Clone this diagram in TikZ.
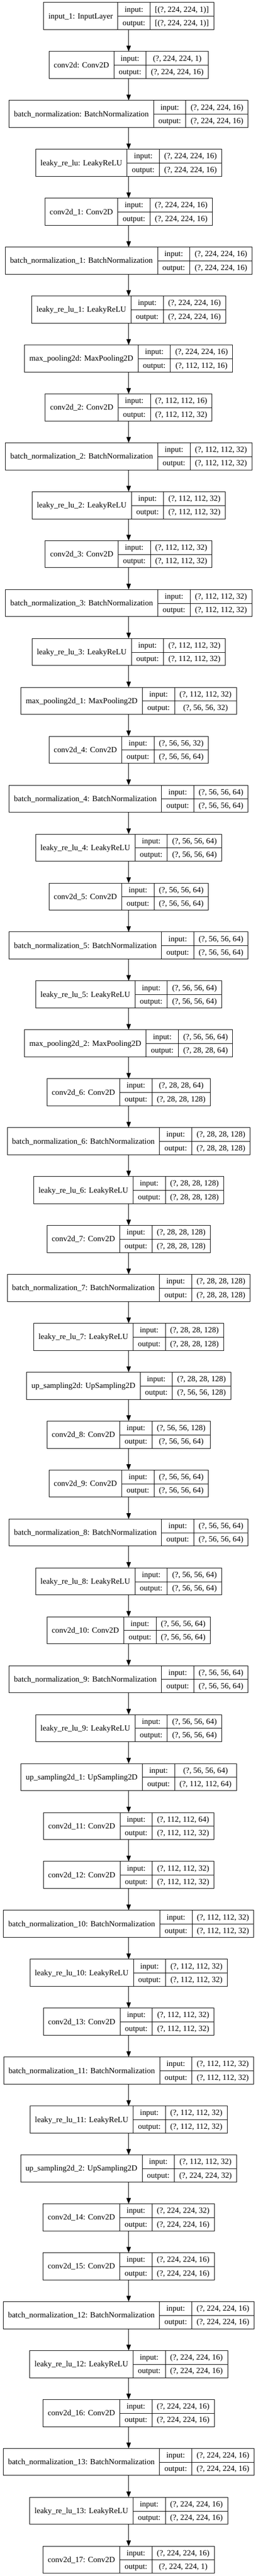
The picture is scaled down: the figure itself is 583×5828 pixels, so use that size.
\documentclass[tikz,border=0pt]{standalone}
\usepackage{fontspec}
\setmainfont{Liberation Serif}
\usepackage{tikz}
\usetikzlibrary{positioning}
\usetikzlibrary{arrows.meta}

\setlength{\tabcolsep}{11pt}
\setlength{\arrayrulewidth}{1pt}
\newcommand{\rowstrut}{\rule[-9.4pt]{0pt}{30.65pt}}
\newcommand{\layertab}[3]{%
    \begin{tabular}{c|c|c}
        \raisebox{-15.3pt}[0pt][0pt]{#1} & \rowstrut input: & #2 \\ \cline{2-3}
        & \rowstrut output: & #3
    \end{tabular}}

\begin{document}
\begin{tikzpicture}[
        layer/.style = {
            draw,
            line width = 1pt,
            inner sep = 0pt,
            outer sep = 0pt,
            font = \fontsize{18}{21.6}\selectfont
        },
        edge/.style = {
            line width = 1pt,
            -{Triangle[length=13pt, width=10pt]}
        },
        node distance = {49.37pt}
    ]
    \useasboundingbox (0,0) rectangle (583pt,-5828pt);

    \node[layer, anchor=north] (1) at (291.2pt,-5.7pt) {\layertab{input\_1: InputLayer}{[(?, 224, 224, 1)]}{[(?, 224, 224, 1)]}};
    \node[layer, below=of 1] (2) {\layertab{conv2d: Conv2D}{(?, 224, 224, 1)}{(?, 224, 224, 16)}};
    \node[layer, below=of 2] (3) {\layertab{batch\_normalization: BatchNormalization}{(?, 224, 224, 16)}{(?, 224, 224, 16)}};
    \node[layer, below=of 3] (4) {\layertab{leaky\_re\_lu: LeakyReLU}{(?, 224, 224, 16)}{(?, 224, 224, 16)}};
    \node[layer, below=of 4] (5) {\layertab{conv2d\_1: Conv2D}{(?, 224, 224, 16)}{(?, 224, 224, 16)}};
    \node[layer, below=of 5] (6) {\layertab{batch\_normalization\_1: BatchNormalization}{(?, 224, 224, 16)}{(?, 224, 224, 16)}};
    \node[layer, below=of 6] (7) {\layertab{leaky\_re\_lu\_1: LeakyReLU}{(?, 224, 224, 16)}{(?, 224, 224, 16)}};
    \node[layer, below=of 7] (8) {\layertab{max\_pooling2d: MaxPooling2D}{(?, 224, 224, 16)}{(?, 112, 112, 16)}};
    \node[layer, below=of 8] (9) {\layertab{conv2d\_2: Conv2D}{(?, 112, 112, 16)}{(?, 112, 112, 32)}};
    \node[layer, below=of 9] (10) {\layertab{batch\_normalization\_2: BatchNormalization}{(?, 112, 112, 32)}{(?, 112, 112, 32)}};
    \node[layer, below=of 10] (11) {\layertab{leaky\_re\_lu\_2: LeakyReLU}{(?, 112, 112, 32)}{(?, 112, 112, 32)}};
    \node[layer, below=of 11] (12) {\layertab{conv2d\_3: Conv2D}{(?, 112, 112, 32)}{(?, 112, 112, 32)}};
    \node[layer, below=of 12] (13) {\layertab{batch\_normalization\_3: BatchNormalization}{(?, 112, 112, 32)}{(?, 112, 112, 32)}};
    \node[layer, below=of 13] (14) {\layertab{leaky\_re\_lu\_3: LeakyReLU}{(?, 112, 112, 32)}{(?, 112, 112, 32)}};
    \node[layer, below=of 14] (15) {\layertab{max\_pooling2d\_1: MaxPooling2D}{(?, 112, 112, 32)}{(?, 56, 56, 32)}};
    \node[layer, below=of 15] (16) {\layertab{conv2d\_4: Conv2D}{(?, 56, 56, 32)}{(?, 56, 56, 64)}};
    \node[layer, below=of 16] (17) {\layertab{batch\_normalization\_4: BatchNormalization}{(?, 56, 56, 64)}{(?, 56, 56, 64)}};
    \node[layer, below=of 17] (18) {\layertab{leaky\_re\_lu\_4: LeakyReLU}{(?, 56, 56, 64)}{(?, 56, 56, 64)}};
    \node[layer, below=of 18] (19) {\layertab{conv2d\_5: Conv2D}{(?, 56, 56, 64)}{(?, 56, 56, 64)}};
    \node[layer, below=of 19] (20) {\layertab{batch\_normalization\_5: BatchNormalization}{(?, 56, 56, 64)}{(?, 56, 56, 64)}};
    \node[layer, below=of 20] (21) {\layertab{leaky\_re\_lu\_5: LeakyReLU}{(?, 56, 56, 64)}{(?, 56, 56, 64)}};
    \node[layer, below=of 21] (22) {\layertab{max\_pooling2d\_2: MaxPooling2D}{(?, 56, 56, 64)}{(?, 28, 28, 64)}};
    \node[layer, below=of 22] (23) {\layertab{conv2d\_6: Conv2D}{(?, 28, 28, 64)}{(?, 28, 28, 128)}};
    \node[layer, below=of 23] (24) {\layertab{batch\_normalization\_6: BatchNormalization}{(?, 28, 28, 128)}{(?, 28, 28, 128)}};
    \node[layer, below=of 24] (25) {\layertab{leaky\_re\_lu\_6: LeakyReLU}{(?, 28, 28, 128)}{(?, 28, 28, 128)}};
    \node[layer, below=of 25] (26) {\layertab{conv2d\_7: Conv2D}{(?, 28, 28, 128)}{(?, 28, 28, 128)}};
    \node[layer, below=of 26] (27) {\layertab{batch\_normalization\_7: BatchNormalization}{(?, 28, 28, 128)}{(?, 28, 28, 128)}};
    \node[layer, below=of 27] (28) {\layertab{leaky\_re\_lu\_7: LeakyReLU}{(?, 28, 28, 128)}{(?, 28, 28, 128)}};
    \node[layer, below=of 28] (29) {\layertab{up\_sampling2d: UpSampling2D}{(?, 28, 28, 128)}{(?, 56, 56, 128)}};
    \node[layer, below=of 29] (30) {\layertab{conv2d\_8: Conv2D}{(?, 56, 56, 128)}{(?, 56, 56, 64)}};
    \node[layer, below=of 30] (31) {\layertab{conv2d\_9: Conv2D}{(?, 56, 56, 64)}{(?, 56, 56, 64)}};
    \node[layer, below=of 31] (32) {\layertab{batch\_normalization\_8: BatchNormalization}{(?, 56, 56, 64)}{(?, 56, 56, 64)}};
    \node[layer, below=of 32] (33) {\layertab{leaky\_re\_lu\_8: LeakyReLU}{(?, 56, 56, 64)}{(?, 56, 56, 64)}};
    \node[layer, below=of 33] (34) {\layertab{conv2d\_10: Conv2D}{(?, 56, 56, 64)}{(?, 56, 56, 64)}};
    \node[layer, below=of 34] (35) {\layertab{batch\_normalization\_9: BatchNormalization}{(?, 56, 56, 64)}{(?, 56, 56, 64)}};
    \node[layer, below=of 35] (36) {\layertab{leaky\_re\_lu\_9: LeakyReLU}{(?, 56, 56, 64)}{(?, 56, 56, 64)}};
    \node[layer, below=of 36] (37) {\layertab{up\_sampling2d\_1: UpSampling2D}{(?, 56, 56, 64)}{(?, 112, 112, 64)}};
    \node[layer, below=of 37] (38) {\layertab{conv2d\_11: Conv2D}{(?, 112, 112, 64)}{(?, 112, 112, 32)}};
    \node[layer, below=of 38] (39) {\layertab{conv2d\_12: Conv2D}{(?, 112, 112, 32)}{(?, 112, 112, 32)}};
    \node[layer, below=of 39] (40) {\layertab{batch\_normalization\_10: BatchNormalization}{(?, 112, 112, 32)}{(?, 112, 112, 32)}};
    \node[layer, below=of 40] (41) {\layertab{leaky\_re\_lu\_10: LeakyReLU}{(?, 112, 112, 32)}{(?, 112, 112, 32)}};
    \node[layer, below=of 41] (42) {\layertab{conv2d\_13: Conv2D}{(?, 112, 112, 32)}{(?, 112, 112, 32)}};
    \node[layer, below=of 42] (43) {\layertab{batch\_normalization\_11: BatchNormalization}{(?, 112, 112, 32)}{(?, 112, 112, 32)}};
    \node[layer, below=of 43] (44) {\layertab{leaky\_re\_lu\_11: LeakyReLU}{(?, 112, 112, 32)}{(?, 112, 112, 32)}};
    \node[layer, below=of 44] (45) {\layertab{up\_sampling2d\_2: UpSampling2D}{(?, 112, 112, 32)}{(?, 224, 224, 32)}};
    \node[layer, below=of 45] (46) {\layertab{conv2d\_14: Conv2D}{(?, 224, 224, 32)}{(?, 224, 224, 16)}};
    \node[layer, below=of 46] (47) {\layertab{conv2d\_15: Conv2D}{(?, 224, 224, 16)}{(?, 224, 224, 16)}};
    \node[layer, below=of 47] (48) {\layertab{batch\_normalization\_12: BatchNormalization}{(?, 224, 224, 16)}{(?, 224, 224, 16)}};
    \node[layer, below=of 48] (49) {\layertab{leaky\_re\_lu\_12: LeakyReLU}{(?, 224, 224, 16)}{(?, 224, 224, 16)}};
    \node[layer, below=of 49] (50) {\layertab{conv2d\_16: Conv2D}{(?, 224, 224, 16)}{(?, 224, 224, 16)}};
    \node[layer, below=of 50] (51) {\layertab{batch\_normalization\_13: BatchNormalization}{(?, 224, 224, 16)}{(?, 224, 224, 16)}};
    \node[layer, below=of 51] (52) {\layertab{leaky\_re\_lu\_13: LeakyReLU}{(?, 224, 224, 16)}{(?, 224, 224, 16)}};
    \node[layer, below=of 52] (53) {\layertab{conv2d\_17: Conv2D}{(?, 224, 224, 16)}{(?, 224, 224, 1)}};

    \draw[edge] (1) -- (2);
    \draw[edge] (2) -- (3);
    \draw[edge] (3) -- (4);
    \draw[edge] (4) -- (5);
    \draw[edge] (5) -- (6);
    \draw[edge] (6) -- (7);
    \draw[edge] (7) -- (8);
    \draw[edge] (8) -- (9);
    \draw[edge] (9) -- (10);
    \draw[edge] (10) -- (11);
    \draw[edge] (11) -- (12);
    \draw[edge] (12) -- (13);
    \draw[edge] (13) -- (14);
    \draw[edge] (14) -- (15);
    \draw[edge] (15) -- (16);
    \draw[edge] (16) -- (17);
    \draw[edge] (17) -- (18);
    \draw[edge] (18) -- (19);
    \draw[edge] (19) -- (20);
    \draw[edge] (20) -- (21);
    \draw[edge] (21) -- (22);
    \draw[edge] (22) -- (23);
    \draw[edge] (23) -- (24);
    \draw[edge] (24) -- (25);
    \draw[edge] (25) -- (26);
    \draw[edge] (26) -- (27);
    \draw[edge] (27) -- (28);
    \draw[edge] (28) -- (29);
    \draw[edge] (29) -- (30);
    \draw[edge] (30) -- (31);
    \draw[edge] (31) -- (32);
    \draw[edge] (32) -- (33);
    \draw[edge] (33) -- (34);
    \draw[edge] (34) -- (35);
    \draw[edge] (35) -- (36);
    \draw[edge] (36) -- (37);
    \draw[edge] (37) -- (38);
    \draw[edge] (38) -- (39);
    \draw[edge] (39) -- (40);
    \draw[edge] (40) -- (41);
    \draw[edge] (41) -- (42);
    \draw[edge] (42) -- (43);
    \draw[edge] (43) -- (44);
    \draw[edge] (44) -- (45);
    \draw[edge] (45) -- (46);
    \draw[edge] (46) -- (47);
    \draw[edge] (47) -- (48);
    \draw[edge] (48) -- (49);
    \draw[edge] (49) -- (50);
    \draw[edge] (50) -- (51);
    \draw[edge] (51) -- (52);
    \draw[edge] (52) -- (53);
\end{tikzpicture}
\end{document}
